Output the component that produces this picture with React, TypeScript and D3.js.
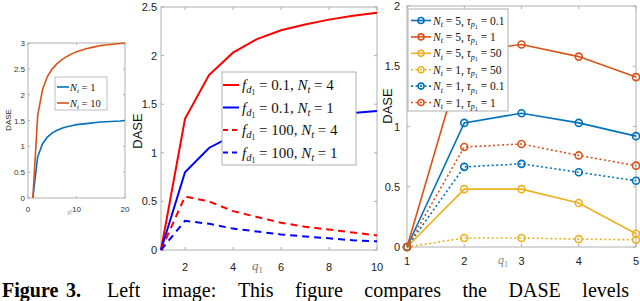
import React, { useLayoutEffect, useRef, useState } from 'react';
import * as d3 from 'd3';

// ---------- Left panel data ----------
const leftX = [1, 2, 3, 4, 5, 6, 7, 8, 9, 10, 11, 12, 13, 14, 15, 16, 17, 18, 19, 20];
const leftNt1 = [0, 0.8, 1.05, 1.18, 1.26, 1.31, 1.35, 1.38, 1.4, 1.42, 1.43, 1.44, 1.45, 1.46, 1.47, 1.475, 1.48, 1.485, 1.49, 1.5];
const leftNt10 = [0, 1.6, 2.1, 2.35, 2.5, 2.6, 2.68, 2.74, 2.79, 2.83, 2.86, 2.89, 2.91, 2.93, 2.95, 2.96, 2.97, 2.98, 2.99, 3.0];
const leftXTicks = [0, 10, 20];
const leftYTicks = [0, 0.5, 1, 1.5, 2, 2.5, 3];

// ---------- Middle panel data ----------
const midX = [1, 2, 3, 4, 5, 6, 7, 8, 9, 10];
const midF01N4 = [0, 1.35, 1.8, 2.03, 2.17, 2.26, 2.32, 2.37, 2.41, 2.44];
const midF01N1 = [0, 0.8, 1.05, 1.18, 1.26, 1.31, 1.35, 1.38, 1.41, 1.43];
const midF100N4 = [0, 0.55, 0.5, 0.4, 0.34, 0.28, 0.24, 0.21, 0.18, 0.15];
const midF100N1 = [0, 0.3, 0.27, 0.22, 0.19, 0.16, 0.14, 0.12, 0.1, 0.09];
const midXTicks = [2, 4, 6, 8, 10];
const midYTicks = [0, 0.5, 1, 1.5, 2, 2.5];

// ---------- Right panel data ----------
const rightX = [1, 2, 3, 4, 5];
const rN5r01 = [0, 1.03, 1.11, 1.03, 0.92];
const rN5r1 = [0, 1.62, 1.68, 1.58, 1.41];
const rN5r50 = [0, 0.48, 0.48, 0.365, 0.11];
const rN1r50 = [0, 0.075, 0.075, 0.065, 0.06];
const rN1r01 = [0, 0.665, 0.69, 0.62, 0.55];
const rN1r1 = [0, 0.83, 0.855, 0.76, 0.675];
const rightXTicks = [1, 2, 3, 4, 5];
const rightYTicks = [0, 0.5, 1, 1.5, 2];

const captionWords = ['Left', 'image:', 'This', 'figure', 'compares', 'the', 'DASE', 'levels'];

const BLUE = '#0072BD';
const ORANGE = '#D95319';
const YELLOW = '#EDB120';
const SANS = 'Liberation Sans, Arial, sans-serif';
const SERIF = 'Liberation Serif, Times New Roman, serif';
const BOX = '#b0b0b0';

type Pt = [number, number];
const zip = (xs: number[], ys: number[]): Pt[] => xs.map((x, i) => [x, ys[i]]);

function Box({ x0, x1, y0, y1, xs, ys, xTicks, yTicks, tl }: any) {
  return (
    <g>
      <rect x={x0} y={y1} width={x1 - x0} height={y0 - y1} fill="none" stroke={BOX} strokeWidth={1} />
      {xTicks.map((t: number) => (
        <g key={'x' + t}>
          <line x1={xs(t)} x2={xs(t)} y1={y0} y2={y0 - tl} stroke={BOX} />
          <line x1={xs(t)} x2={xs(t)} y1={y1} y2={y1 + tl} stroke={BOX} />
        </g>
      ))}
      {yTicks.map((t: number) => (
        <g key={'y' + t}>
          <line x1={x0} x2={x0 + tl} y1={ys(t)} y2={ys(t)} stroke={BOX} />
          <line x1={x1} x2={x1 - tl} y1={ys(t)} y2={ys(t)} stroke={BOX} />
        </g>
      ))}
    </g>
  );
}

function Caption() {
  const refs = useRef<(SVGTextElement | null)[]>([]);
  const start = 107;
  const end = 629;
  const [xs, setXs] = useState<number[]>(() => {
    const est = [33, 54, 36, 48, 77, 29, 51, 47];
    const gap = (end - start - est.reduce((a, b) => a + b, 0)) / (est.length - 1);
    let x = start;
    return est.map(w => { const v = x; x += w + gap; return v; });
  });
  useLayoutEffect(() => {
    const widths = refs.current.map(r => (r ? r.getComputedTextLength() : 40));
    const total = widths.reduce((a, b) => a + b, 0);
    const gap = (end - start - total) / (widths.length - 1);
    let x = start;
    const out = widths.map(w => { const v = x; x += w + gap; return v; });
    setXs(out);
  }, []);
  return (
    <g>
      <text x={2} y={297} fontSize={20} fontFamily={SERIF} fontWeight="bold" fill="#000">Figure</text>
      <text x={66} y={297} fontSize={20} fontFamily={SERIF} fontWeight="bold" fill="#000">3.</text>
      {captionWords.map((w, i) => (
        <text key={i} ref={el => { refs.current[i] = el; }} x={xs[i]} y={297} fontSize={20} fontFamily={SERIF} fill="#000">{w}</text>
      ))}
    </g>
  );
}

export default function App() {
  // Left panel
  const lx = d3.scaleLinear().domain([0, 20]).range([28, 125]);
  const ly = d3.scaleLinear().domain([0, 3]).range([198, 43]);
  const lLine = d3.line<Pt>().x(d => lx(d[0])).y(d => ly(d[1]));

  // Middle panel
  const mx = d3.scaleLinear().domain([1, 10]).range([161, 377]);
  const my = d3.scaleLinear().domain([0, 2.5]).range([250, 7]);
  const mLine = d3.line<Pt>().x(d => mx(d[0])).y(d => my(d[1]));

  // Right panel
  const rx = d3.scaleLinear().domain([1, 5]).range([407, 636]);
  const ry = d3.scaleLinear().domain([0, 2]).range([247, 6]);
  const rLine = d3.line<Pt>().x(d => rx(d[0])).y(d => ry(d[1]));

  const midSeries = [
    { ys: midF01N4, color: '#ff0000', dash: undefined, val: '0.1', nt: '4' },
    { ys: midF01N1, color: '#0000ff', dash: undefined, val: '0.1', nt: '1' },
    { ys: midF100N4, color: '#ff0000', dash: '7,5', val: '100', nt: '4' },
    { ys: midF100N1, color: '#0000ff', dash: '7,5', val: '100', nt: '1' },
  ];

  const rightSeries = [
    { ys: rN5r01, color: BLUE, dash: undefined, nt: '5', r: '0.1' },
    { ys: rN5r1, color: ORANGE, dash: undefined, nt: '5', r: '1' },
    { ys: rN5r50, color: YELLOW, dash: undefined, nt: '5', r: '50' },
    { ys: rN1r50, color: YELLOW, dash: '2,2.5', nt: '1', r: '50' },
    { ys: rN1r01, color: BLUE, dash: '2,2.5', nt: '1', r: '0.1' },
    { ys: rN1r1, color: ORANGE, dash: '2,2.5', nt: '1', r: '1' },
  ];

  return (
    <svg width={640} height={301} style={{ position: 'absolute', left: 0, top: 0, background: '#fff' }}>
      <rect width={640} height={301} fill="#fff" />

      {/* ===== Left panel ===== */}
      <Box x0={28} x1={125} y0={198} y1={43} xs={lx} ys={ly} xTicks={leftXTicks} yTicks={leftYTicks} tl={2} />
      {leftXTicks.map(t => (
        <text key={t} x={lx(t)} y={212} fontSize={8} fontFamily={SANS} textAnchor="middle" fill="#333">{t}</text>
      ))}
      {leftYTicks.map(t => (
        <text key={t} x={25} y={ly(t) + 3} fontSize={8} fontFamily={SANS} textAnchor="end" fill="#333">{t}</text>
      ))}
      <text x={70} y={214} fontSize={7} fontFamily={SERIF} fontStyle="italic" fill="#888" textAnchor="middle">γ̄ₜ</text>
      <text transform="translate(11,120) rotate(-90)" fontSize={8} fontFamily={SANS} textAnchor="middle" fill="#222">DASE</text>
      <path d={lLine(zip(leftX, leftNt1)) || ''} fill="none" stroke={BLUE} strokeWidth={1.6} />
      <path d={lLine(zip(leftX, leftNt10)) || ''} fill="none" stroke={ORANGE} strokeWidth={1.6} />
      <rect x={55} y={77} width={52} height={33} fill="#fff" stroke={BOX} strokeWidth={0.8} />
      {[{ c: BLUE, n: '1' }, { c: ORANGE, n: '10' }].map((e, i) => (
        <g key={i}>
          <line x1={57} x2={69} y1={87 + i * 16} y2={87 + i * 16} stroke={e.c} strokeWidth={1.6} />
          <text x={70} y={91 + i * 16} fontSize={10.5} fontFamily={SERIF} fill="#111">
            <tspan fontStyle="italic">N</tspan>
            <tspan fontStyle="italic" fontSize={7} dy={2}>t</tspan>
            <tspan dy={-2}> = {e.n}</tspan>
          </text>
        </g>
      ))}

      {/* ===== Middle panel ===== */}
      <Box x0={161} x1={377} y0={250} y1={7} xs={mx} ys={my} xTicks={midXTicks} yTicks={midYTicks} tl={3} />
      {midXTicks.map(t => (
        <text key={t} x={mx(t)} y={271} fontSize={11} fontFamily={SANS} textAnchor="middle" fill="#222">{t}</text>
      ))}
      {midYTicks.map(t => (
        <text key={t} x={157} y={my(t) + 4} fontSize={11} fontFamily={SANS} textAnchor="end" fill="#222">{t}</text>
      ))}
      <text x={252} y={270} fontSize={13} fontFamily={SERIF} fill="#777">
        <tspan fontStyle="italic">q</tspan><tspan fontSize={9} dy={3}>1</tspan>
      </text>
      <text transform="translate(142,131) rotate(-90)" fontSize={13} fontFamily={SANS} textAnchor="middle" fill="#111">DASE</text>
      {midSeries.map((s, i) => (
        <path key={i} d={mLine(zip(midX, s.ys)) || ''} fill="none" stroke={s.color} strokeWidth={2} strokeDasharray={s.dash} />
      ))}
      <rect x={222} y={72} width={134} height={93} fill="#fff" stroke={BOX} strokeWidth={1} />
      {midSeries.map((s, i) => {
        const y = 85 + i * 22.5;
        return (
          <g key={i}>
            <line x1={223} x2={239} y1={y} y2={y} stroke={s.color} strokeWidth={2} strokeDasharray={s.dash ? '5,4' : undefined} />
            <text x={242} y={y + 5} fontSize={15} fontFamily={SERIF} fill="#111">
              <tspan fontStyle="italic">f</tspan>
              <tspan fontStyle="italic" fontSize={10.5} dy={3}>d</tspan>
              <tspan fontSize={7.5} dy={2}>1</tspan>
              <tspan dy={-5}> = {s.val}, </tspan>
              <tspan fontStyle="italic">N</tspan>
              <tspan fontStyle="italic" fontSize={10.5} dy={3}>t</tspan>
              <tspan dy={-3}> = {s.nt}</tspan>
            </text>
          </g>
        );
      })}

      {/* ===== Right panel ===== */}
      <Box x0={407} x1={636} y0={247} y1={6} xs={rx} ys={ry} xTicks={rightXTicks} yTicks={rightYTicks} tl={3} />
      {rightXTicks.map(t => (
        <text key={t} x={rx(t)} y={265} fontSize={11} fontFamily={SANS} textAnchor="middle" fill="#222">{t}</text>
      ))}
      {rightYTicks.map(t => (
        <text key={t} x={400} y={ry(t) + 4} fontSize={11} fontFamily={SANS} textAnchor="end" fill="#222">{t}</text>
      ))}
      <text x={498} y={264} fontSize={12} fontFamily={SERIF} fill="#888">
        <tspan fontStyle="italic">q</tspan><tspan fontSize={8} dy={3}>1</tspan>
      </text>
      <text transform="translate(392,106) rotate(-90)" fontSize={13} fontFamily={SANS} textAnchor="middle" fill="#111">DASE</text>
      {rightSeries.map((s, i) => (
        <g key={i}>
          <path d={rLine(zip(rightX, s.ys)) || ''} fill="none" stroke={s.color} strokeWidth={1.6} strokeDasharray={s.dash} />
          {rightX.map((x, j) => (
            <circle key={j} cx={rx(x)} cy={ry(s.ys[j])} r={3.5} fill="none" stroke={s.color} strokeWidth={1.6} />
          ))}
        </g>
      ))}
      <rect x={408} y={9} width={100} height={102} fill="#fff" stroke={BOX} strokeWidth={1} />
      {rightSeries.map((s, i) => {
        const y = 20.5 + i * 16.4;
        return (
          <g key={i}>
            <line x1={411} x2={431} y1={y} y2={y} stroke={s.color} strokeWidth={1.6} strokeDasharray={s.dash} />
            <circle cx={421} cy={y} r={3} fill="none" stroke={s.color} strokeWidth={1.6} />
            <text x={433} y={y + 4} fontSize={11.5} fontFamily={SERIF} fill="#111">
              <tspan fontStyle="italic">N</tspan>
              <tspan fontStyle="italic" fontSize={8} dy={2.5}>t</tspan>
              <tspan dy={-2.5}> = {s.nt}, </tspan>
              <tspan fontStyle="italic">τ</tspan>
              <tspan fontStyle="italic" fontSize={8} dy={2.5}>p</tspan>
              <tspan fontSize={6} dy={1.5}>1</tspan>
              <tspan dy={-4}> = {s.r}</tspan>
            </text>
          </g>
        );
      })}

      {/* ===== Caption ===== */}
      <Caption />
    </svg>
  );
}
